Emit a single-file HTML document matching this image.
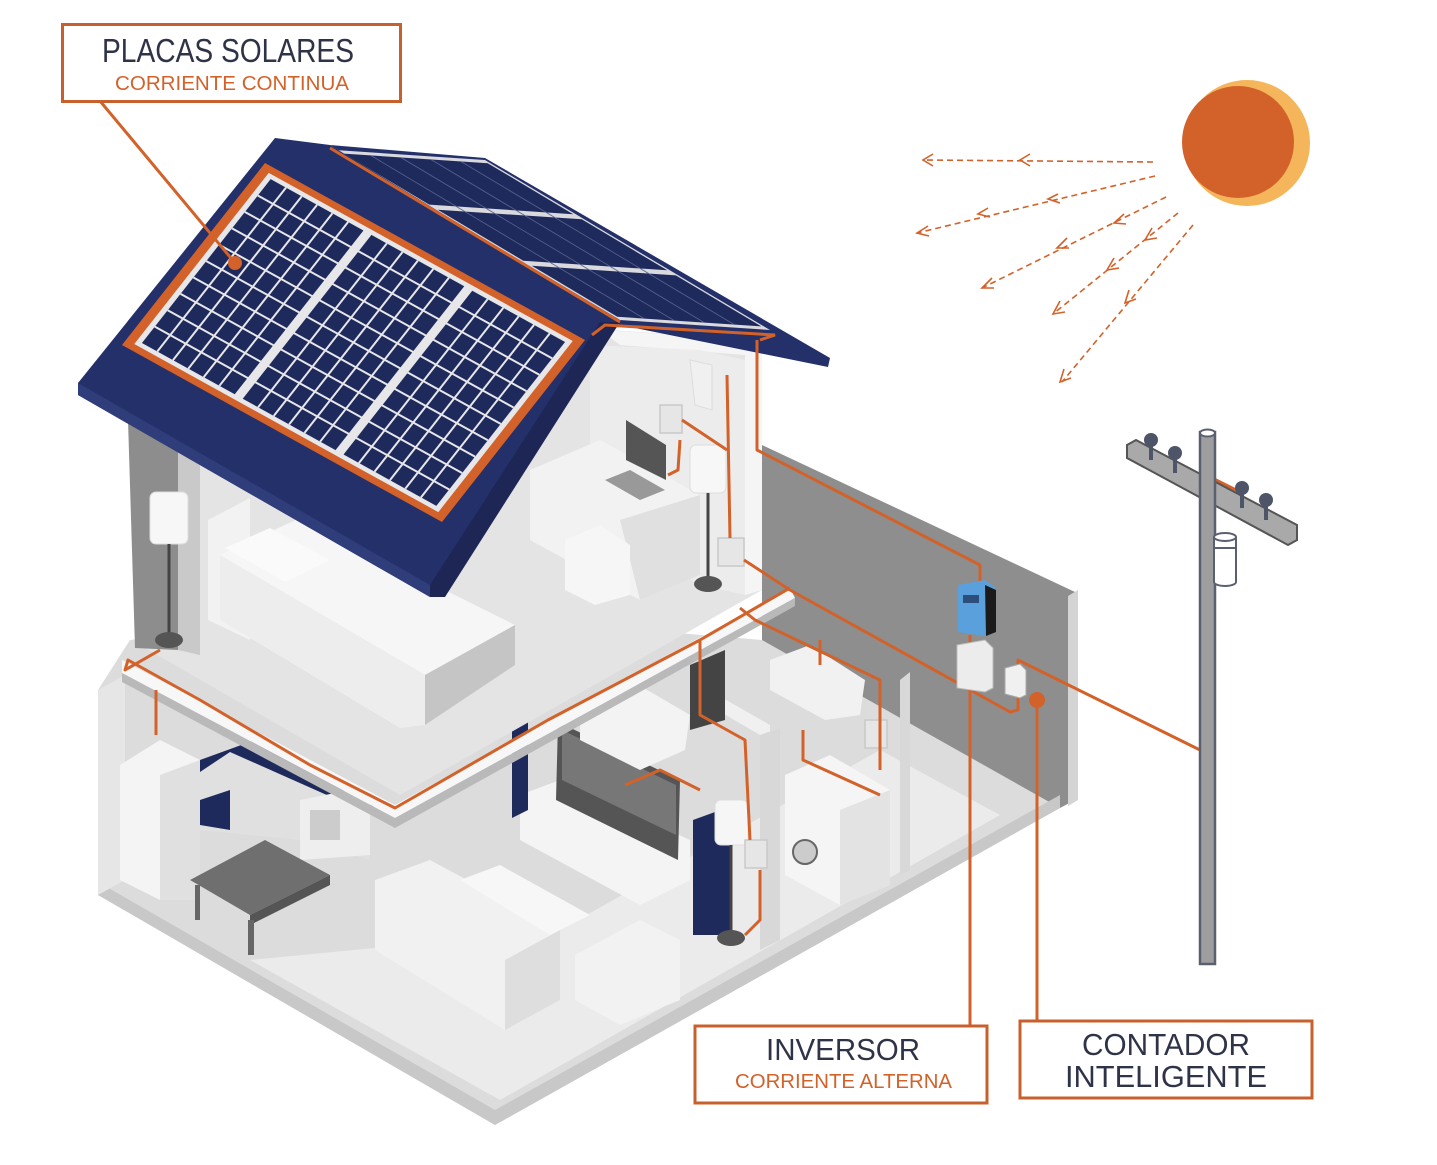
<!DOCTYPE html>
<html><head><meta charset="utf-8"><style>
html,body{margin:0;padding:0;background:#fff;}
svg{display:block;}
text{font-family:"Liberation Sans",sans-serif;}
</style></head><body>
<svg width="1437" height="1165" viewBox="0 0 1437 1165" xmlns="http://www.w3.org/2000/svg">
<rect width="1437" height="1165" fill="#fff"/>

<!-- back right wall -->
<polygon points="762,445 1075,592 1075,800 1060,808 762,650" fill="#8e8e8e"/>
<polygon points="1068,596 1078,590 1078,800 1068,806" fill="#d4d4d4"/>

<!-- ground floor base -->
<polygon points="98,690 98,895 495,1125 1060,808 762,640 400,610 130,640" fill="#dcdcdc"/>
<polygon points="98,882 495,1110 1060,795 1060,808 495,1125 98,895" fill="#c8c8c8"/>
<polygon points="250,960 500,1100 1000,815 880,750 560,930" fill="#ebebeb"/>
<polygon points="98,690 125,675 125,880 98,895" fill="#e6e6e6"/>
<!-- kitchen -->
<polygon points="200,760 230,748 370,815 370,860 300,840 200,830" fill="#e0e0e0"/>
<polygon points="200,760 255,740 380,802 365,812 230,752 200,772" fill="#1f2a5c"/>
<polygon points="200,800 230,790 230,830 200,825" fill="#1f2a5c"/>
<polygon points="120,765 160,740 200,760 200,900 160,900 120,880" fill="#f4f4f4"/>
<polygon points="160,775 200,760 200,900 160,900" fill="#e0e0e0"/>
<polygon points="300,800 350,790 370,800 370,855 300,860" fill="#eeeeee"/>
<rect x="310" y="810" width="30" height="30" fill="#ccc"/>
<polygon points="190,880 265,840 330,875 250,915" fill="#6f6f6f"/>
<polygon points="250,915 330,875 330,885 250,925" fill="#555"/>
<rect x="248" y="920" width="6" height="35" fill="#666"/>
<rect x="195" y="885" width="5" height="35" fill="#666"/>
<!-- living room -->
<polygon points="375,880 430,860 560,930 560,1000 505,1030 375,950" fill="#f1f1f1"/>
<polygon points="505,960 560,930 560,1000 505,1030" fill="#dedede"/>
<polygon points="460,880 500,865 590,915 550,935" fill="#f7f7f7"/>
<polygon points="575,955 640,920 680,940 680,1000 620,1025 575,1000" fill="#f2f2f2"/>
<!-- TV unit -->
<polygon points="520,795 560,780 690,840 690,880 640,905 520,840" fill="#f4f4f4"/>
<polygon points="558,722 680,780 678,860 556,800" fill="#555"/>
<polygon points="562,730 676,785 676,835 562,780" fill="#777"/>
<polygon points="512,730 528,722 528,810 512,818" fill="#1f2a5c"/>
<polygon points="693,820 715,812 730,820 730,935 693,935" fill="#1f2a5c"/>
<!-- partition walls -->
<polygon points="700,685 770,725 770,945 760,950 760,735 700,700" fill="#f0f0f0"/>
<polygon points="760,735 780,728 780,940 760,950" fill="#d8d8d8"/>
<polygon points="690,665 725,650 725,720 690,730" fill="#444"/>
<polygon points="900,680 910,672 910,870 900,875" fill="#d8d8d8"/>
<!-- AC units -->
<polygon points="580,705 630,680 690,715 685,750 640,770 580,740" fill="#f3f3f3"/>
<polygon points="770,660 810,645 865,680 860,715 825,720 770,690" fill="#f1f1f1"/>
<!-- washing machine -->
<polygon points="785,775 830,755 890,790 890,885 840,905 785,875" fill="#f5f5f5"/>
<polygon points="840,810 890,790 890,885 840,905" fill="#e3e3e3"/>
<circle cx="805" cy="852" r="12" fill="#ccc" stroke="#666" stroke-width="2"/>
<rect x="715" y="800" width="33" height="45" rx="6" fill="#f6f6f6" stroke="#ddd"/>
<line x1="731" y1="845" x2="731" y2="935" stroke="#444" stroke-width="3"/>
<ellipse cx="731" cy="938" rx="14" ry="8" fill="#555"/>

<!-- upper floor interior -->
<polygon points="130,420 140,645 400,795 762,590 762,340 610,330 400,420" fill="#e4e4e4"/>
<polygon points="128,420 178,445 178,650 135,648" fill="#8d8d8d"/>
<polygon points="178,445 200,440 200,655 178,650" fill="#c9c9c9"/>
<polygon points="208,520 250,498 250,640 208,620" fill="#f2f2f2"/>
<polygon points="600,330 762,340 762,590 745,595 745,355 620,345" fill="#f5f5f5"/>
<polygon points="590,345 700,350 745,360 745,595 700,585 590,520" fill="#ececec"/>
<!-- desk -->
<polygon points="530,470 600,440 700,495 700,575 640,600 530,540" fill="#f2f2f2"/>
<polygon points="620,520 700,495 700,575 640,600" fill="#e0e0e0"/>
<polygon points="565,540 600,525 630,545 630,595 595,605 565,590" fill="#f6f6f6"/>
<polygon points="626,420 666,445 666,480 626,460" fill="#555"/>
<polygon points="605,480 630,470 665,490 640,500" fill="#999"/>
<!-- bed -->
<polygon points="220,555 300,518 515,625 425,675" fill="#f6f6f6"/>
<polygon points="220,555 425,675 425,725 400,728 220,620" fill="#ededed"/>
<polygon points="425,675 515,625 515,665 425,725" fill="#c5c5c5"/>
<polygon points="225,548 270,528 330,560 285,582" fill="#fafafa"/>
<!-- lamps upper -->
<rect x="150" y="492" width="38" height="52" rx="6" fill="#f7f7f7" stroke="#ddd"/>
<line x1="169" y1="544" x2="169" y2="635" stroke="#444" stroke-width="3"/>
<ellipse cx="169" cy="640" rx="14" ry="8" fill="#555"/>
<rect x="690" y="445" width="36" height="48" rx="6" fill="#f7f7f7" stroke="#ddd"/>
<line x1="708" y1="493" x2="708" y2="580" stroke="#444" stroke-width="3"/>
<ellipse cx="708" cy="584" rx="14" ry="8" fill="#555"/>
<polygon points="690,360 712,365 712,410 695,405" fill="#f0f0f0" stroke="#ddd"/>
<!-- floor slab edge -->
<polygon points="122,660 395,805 790,588 795,598 395,818 122,673" fill="#f7f7f7"/>
<polygon points="122,673 395,818 795,598 795,606 395,828 122,682" fill="#b9b9b9"/>
<!-- outlets -->
<g fill="#e6e6e6" stroke="#c9c9c9" stroke-width="1.5">
<rect x="718" y="538" width="26" height="28"/>
<rect x="660" y="405" width="22" height="28"/>
<rect x="745" y="840" width="22" height="28"/>
<rect x="865" y="720" width="22" height="28"/>
</g>

<!-- ROOF right slope -->
<polygon points="330,145 485,158 830,358 828,367 620,325" fill="#24306a"/>
<g transform="matrix(150,10,285,170,335,150)">
<rect x="0" y="0" width="1" height="1" fill="#d9d9de"/>
<rect x="0.02" y="0.02" width="0.96" height="0.3" fill="#1f2a5c"/>
<rect x="0.02" y="0.35" width="0.96" height="0.3" fill="#1f2a5c"/>
<rect x="0.02" y="0.68" width="0.96" height="0.3" fill="#1f2a5c"/>
<g stroke="#56628f" stroke-width="0.8" vector-effect="non-scaling-stroke">
<path d="M0.2,0.02V0.98M0.4,0.02V0.98M0.6,0.02V0.98M0.8,0.02V0.98" vector-effect="non-scaling-stroke"/>
</g>
</g>
<!-- ROOF front slope -->
<polygon points="275,138 330,145 620,322 600,330 430,597 78,395 78,383" fill="#24306a"/>
<polygon points="78,383 430,585 430,597 78,395" fill="#2f3d7a"/>
<polygon points="430,585 600,322 620,322 445,597 430,597" fill="#1d2655"/>
<g transform="matrix(320,177,-143,182,265,163)">
<rect x="0" y="0" width="1" height="1" fill="#d2622a"/>
<rect x="0.025" y="0.03" width="0.95" height="0.94" fill="#e7e7ea"/>
<g fill="#1f2a5c">
<rect x="0.04" y="0.05" width="0.29" height="0.9"/>
<rect x="0.355" y="0.05" width="0.29" height="0.9"/>
<rect x="0.67" y="0.05" width="0.29" height="0.9"/>
</g>
<g stroke="#e7e7ea" stroke-width="2" vector-effect="non-scaling-stroke">
<path d="M0.088,0.05V0.95M0.137,0.05V0.95M0.185,0.05V0.95M0.233,0.05V0.95M0.282,0.05V0.95 M0.403,0.05V0.95M0.452,0.05V0.95M0.5,0.05V0.95M0.548,0.05V0.95M0.597,0.05V0.95 M0.718,0.05V0.95M0.767,0.05V0.95M0.815,0.05V0.95M0.863,0.05V0.95M0.912,0.05V0.95" vector-effect="non-scaling-stroke"/>
<path d="M0.04,0.14H0.96M0.04,0.23H0.96M0.04,0.32H0.96M0.04,0.41H0.96M0.04,0.5H0.96M0.04,0.59H0.96M0.04,0.68H0.96M0.04,0.77H0.96M0.04,0.86H0.96" vector-effect="non-scaling-stroke"/>
</g>
</g>
<line x1="330" y1="148" x2="620" y2="322" stroke="#d2622a" stroke-width="3"/>
<polyline points="592,335 605,325 775,335 760,340" fill="none" stroke="#d2622a" stroke-width="3"/>

<!-- WIRES -->
<g fill="none" stroke="#d2622a" stroke-width="3" stroke-linejoin="round">
<polyline points="757,340 757,450 980,565 980,582"/>
<line x1="970" y1="635" x2="970" y2="645"/>
<polyline points="727,375 730,538"/>
<polyline points="682,420 727,450"/>
<polyline points="680,440 678,470 668,475"/>
<polyline points="744,560 790,590 1010,712 1018,710 1018,660 1200,750 1206,740 1206,475 1240,492"/>
<polyline points="790,588 700,640 548,720 395,808 310,765 200,700 128,660 125,670 160,650"/>
<polyline points="156,690 156,735"/>
<polyline points="740,608 755,620 880,680 880,770"/>
<polyline points="700,640 700,715 745,740 750,840"/>
<polyline points="625,785 660,770 700,790"/>
<polyline points="820,640 820,665"/>
<polyline points="803,730 803,760 880,795"/>
<polyline points="760,870 760,920 745,935"/>
<polyline points="970,670 970,1025"/>
<polyline points="1037,700 1037,1020"/>
<polyline points="100,101 235,263"/>
</g>
<circle cx="235" cy="263" r="7" fill="#d2622a"/>
<circle cx="970" cy="672" r="8" fill="#d2622a"/>
<circle cx="1037" cy="700" r="8" fill="#d2622a"/>

<!-- inverter / meter -->
<polygon points="958,585 985,580 996,588 996,632 986,636 958,632" fill="#5aa0dc"/>
<polygon points="985,585 996,590 996,632 986,636" fill="#1b1b1b"/>
<rect x="963" y="595" width="16" height="8" fill="#2b4e7a"/>
<polygon points="957,645 985,640 993,648 993,688 985,692 957,688" fill="#ececec" stroke="#bbb"/>
<polygon points="1005,668 1020,664 1026,670 1026,695 1020,698 1005,694" fill="#f0f0f0" stroke="#aaa"/>

<!-- pole -->
<polygon points="1127,445 1136,440 1297,525 1297,540 1288,545 1127,458" fill="#a9a9a9" stroke="#555" stroke-width="2"/>
<rect x="1200" y="432" width="15" height="532" fill="#9e9e9e" stroke="#5b6070" stroke-width="2.5"/>
<ellipse cx="1207.5" cy="433" rx="7.5" ry="3.5" fill="#fff" stroke="#5b6070" stroke-width="2"/>
<g fill="#4e5568">
<circle cx="1151" cy="440" r="7"/><rect x="1149" y="445" width="4" height="15"/>
<circle cx="1175" cy="453" r="7"/><rect x="1173" y="458" width="4" height="15"/>
<circle cx="1242" cy="488" r="7"/><rect x="1240" y="493" width="4" height="15"/>
<circle cx="1266" cy="500" r="7"/><rect x="1264" y="505" width="4" height="15"/>
</g>
<path d="M1214,537 v45 a11,4 0 0 0 22,0 v-45" fill="#fff" stroke="#5b6070" stroke-width="2"/>
<ellipse cx="1225" cy="537" rx="11" ry="4" fill="#fff" stroke="#5b6070" stroke-width="2"/>
<line x1="1214" y1="548" x2="1236" y2="548" stroke="#5b6070" stroke-width="2"/>

<!-- sun -->
<circle cx="1247" cy="143" r="63" fill="#f5b55a"/>
<circle cx="1238" cy="142" r="56" fill="#d2622a"/>
<g fill="none" stroke="#d2622a" stroke-width="1.6" stroke-dasharray="6,4">
<line x1="1153" y1="162" x2="924" y2="160"/>
<line x1="1155" y1="176" x2="917" y2="233"/>
<line x1="1166" y1="197" x2="982" y2="288"/>
<line x1="1178" y1="213" x2="1053" y2="314"/>
<line x1="1193" y1="225" x2="1062" y2="382"/>
</g>
<g fill="none" stroke="#d2622a" stroke-width="1.6">
<polyline points="933,154 923,160 933,166"/>
<polyline points="1030,154 1020,160 1030,166"/>
<polyline points="928,226 917,233 929,236"/>
<polyline points="988,208 978,214 990,217"/>
<polyline points="1058,194 1048,199 1060,203"/>
<polyline points="992,278 982,288 994,288"/>
<polyline points="1067,238 1057,248 1069,248"/>
<polyline points="1124,214 1114,223 1126,224"/>
<polyline points="1060,301 1053,314 1065,312"/>
<polyline points="1114,258 1107,270 1119,268"/>
<polyline points="1152,228 1145,240 1157,238"/>
<polyline points="1064,369 1060,382 1071,378"/>
<polyline points="1129,290 1125,303 1136,299"/>
</g>

<!-- labels -->
<rect x="62.5" y="24.5" width="338" height="77" fill="#fff" stroke="#c8602e" stroke-width="3"/>
<text x="102" y="62" font-size="33" fill="#2e3347" textLength="252" lengthAdjust="spacingAndGlyphs">PLACAS SOLARES</text>
<text x="115" y="90" font-size="20" fill="#d2622a" textLength="234" lengthAdjust="spacingAndGlyphs">CORRIENTE CONTINUA</text>

<rect x="695" y="1026" width="292" height="77" fill="#fff" stroke="#c8602e" stroke-width="3"/>
<text x="766" y="1060" font-size="31" fill="#2e3347" textLength="154" lengthAdjust="spacingAndGlyphs">INVERSOR</text>
<text x="735" y="1088" font-size="20" fill="#d2622a" textLength="217" lengthAdjust="spacingAndGlyphs">CORRIENTE ALTERNA</text>

<rect x="1020" y="1021" width="292" height="77" fill="#fff" stroke="#c8602e" stroke-width="3"/>
<text x="1082" y="1055" font-size="31" fill="#2e3347" textLength="168" lengthAdjust="spacingAndGlyphs">CONTADOR</text>
<text x="1065" y="1087" font-size="31" fill="#2e3347" textLength="202" lengthAdjust="spacingAndGlyphs">INTELIGENTE</text>
</svg>
</body></html>
